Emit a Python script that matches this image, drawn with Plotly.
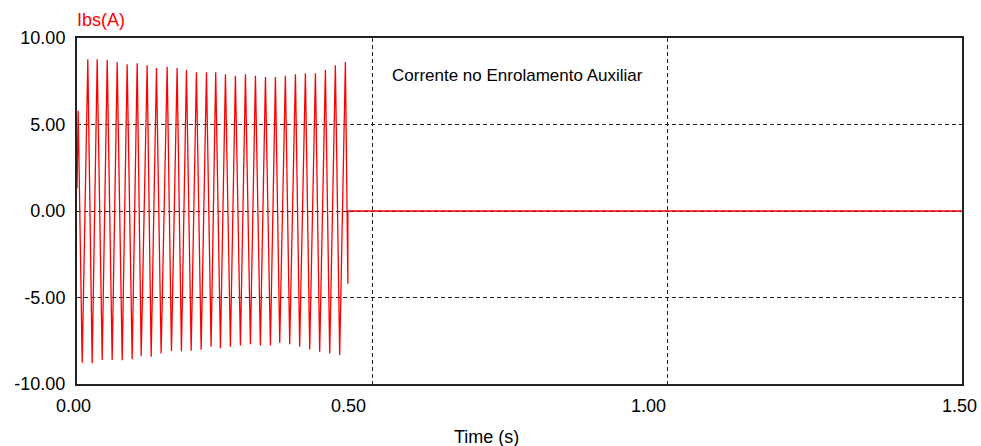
import plotly.graph_objects as go

# Auxiliary winding current Ibs(A) versus time (s): peak/trough samples of the 60 Hz waveform
onset_t = [0.0, 0.0020]
onset_i = [1.3, 5.8]

peak_t = [0.0183, 0.0342, 0.0512, 0.0681, 0.0850, 0.1020, 0.1189, 0.1347, 0.1528,
          0.1697, 0.1855, 0.2024, 0.2194, 0.2351, 0.2516, 0.2685, 0.2855, 0.3024,
          0.3194, 0.3363, 0.3532, 0.3702, 0.3871, 0.4041, 0.4210, 0.4379, 0.4549]
peak_i = [8.77, 8.77, 8.73, 8.60, 8.48, 8.54, 8.42, 8.27, 8.34,
          8.27, 8.15, 8.02, 8.02, 8.02, 7.90, 7.82, 7.90, 7.82,
          7.75, 7.75, 7.82, 7.90, 7.96, 7.96, 8.15, 8.42, 8.61]

trough_t = [0.0088, 0.0257, 0.0427, 0.0596, 0.0766, 0.0935, 0.1088, 0.1257, 0.1426,
            0.1601, 0.1770, 0.1935, 0.2104, 0.2273, 0.2431, 0.2600, 0.2770, 0.2939,
            0.3108, 0.3278, 0.3436, 0.3605, 0.3774, 0.3944, 0.4113, 0.4283, 0.4452]
trough_i = [-8.77, -8.80, -8.61, -8.61, -8.63, -8.57, -8.38, -8.42, -8.23,
            -8.09, -8.11, -8.08, -8.02, -7.84, -7.94, -7.84, -7.78, -7.70,
            -7.78, -7.78, -7.61, -7.70, -7.84, -8.00, -8.13, -8.23, -8.32]

# switch-off instant and end of simulation
cutoff_t = 0.4591
cutoff_i = -4.2
sim_end_t = 1.5

xtick_vals = [0.0, 0.5, 1.0, 1.5]
xtick_text = ["0.00", "0.50", "1.00", "1.50"]
ytick_vals = [-10, -5, 0, 5, 10]
ytick_text = ["-10.00", "-5.00", "0.00", "5.00", "10.00"]

# assemble the trace in time order
swings = sorted(zip(peak_t + trough_t, peak_i + trough_i))
t = onset_t + [p[0] for p in swings] + [cutoff_t, cutoff_t, sim_end_t]
i = onset_i + [p[1] for p in swings] + [cutoff_i, 0.0, 0.0]

FONT = "Liberation Sans, Arial, sans-serif"

fig = go.Figure()
fig.add_trace(go.Scatter(x=t, y=i, mode="lines",
                         line=dict(color="#ff0000", width=1.3),
                         hoverinfo="skip", showlegend=False))

fig.update_layout(
    width=981, height=446,
    margin=dict(l=77, r=19, t=38, b=62),
    paper_bgcolor="white", plot_bgcolor="white",
    font=dict(family=FONT, size=18, color="black"),
    hovermode=False,
)

fig.update_xaxes(range=[0, 1.5], showticklabels=False, ticks="",
                 tickvals=xtick_vals,
                 showgrid=True, gridcolor="#222", gridwidth=1, griddash="4px,3px",
                 showline=True, linecolor="#222", linewidth=2, mirror=True,
                 zeroline=False, fixedrange=True)
fig.update_yaxes(range=[-10, 10], tickvals=ytick_vals, ticktext=ytick_text, ticks="",
                 ticklabelstandoff=6,
                 tickfont=dict(family=FONT, size=18, color="black"),
                 showgrid=True, gridcolor="#222", gridwidth=1, griddash="4px,3px",
                 showline=True, linecolor="#222", linewidth=2, mirror=True,
                 zeroline=False, fixedrange=True)

# time tick labels
for v, s, dx in zip(xtick_vals, xtick_text, [-4, -24, -19, -3]):
    fig.add_annotation(x=v, xref="x", y=0, yref="paper", text=s, showarrow=False,
                       xanchor="center", yanchor="top", xshift=dx, yshift=-10,
                       font=dict(family=FONT, size=18, color="black"))

fig.add_annotation(x=(486.7 - 77) / 885, xref="paper", y=0, yref="paper",
                   text="Time (s)", showarrow=False, xanchor="center", yanchor="middle",
                   yshift=-53, font=dict(family=FONT, size=18, color="black"))

fig.add_annotation(x=0, xref="paper", y=1, yref="paper", text="Ibs(A)",
                   showarrow=False, xanchor="left", yanchor="middle", yshift=18,
                   xshift=-2, font=dict(family=FONT, size=18, color="#ff0000"))

fig.add_annotation(x=0.531, xref="x", y=7.86, yref="y",
                   text="Corrente no Enrolamento Auxiliar", showarrow=False,
                   xanchor="left", yanchor="middle",
                   font=dict(family=FONT, size=17, color="black"))

fig.write_html("out.html", config={"displayModeBar": False, "staticPlot": True})
